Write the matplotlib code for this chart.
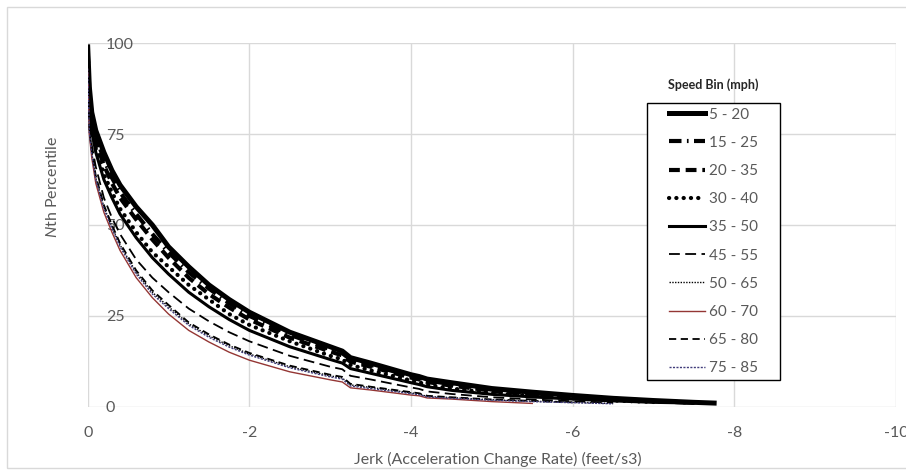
import matplotlib
matplotlib.use("Agg")
import matplotlib.pyplot as plt
import matplotlib.patches as patches

FONT = 'Lato'
plt.rcParams['font.family'] = [FONT, 'DejaVu Sans']
plt.rcParams['axes.unicode_minus'] = False
plt.rcParams['mathtext.fontset'] = 'custom'
plt.rcParams['mathtext.it'] = FONT + ':italic'
plt.rcParams['mathtext.rm'] = FONT

GREY = '#595959'

# jerk (feet/s3) sample points, shared by all speed bins
JERK = [0, -0.02, -0.05, -0.1, -0.2, -0.3, -0.4, -0.6, -0.8, -1.0,
        -1.25, -1.5, -1.75, -2.0, -2.5, -3.0, -3.15, -3.25, -3.5, -4.0,
        -4.1, -4.2, -4.5, -5.0, -5.5, -6.0, -6.5, -7.0, -7.5, -7.75]

# Nth percentile for each speed bin (a bin stops where its data ends)
P_5_20 = [99, 88, 81, 76, 70, 65, 61, 55, 50, 44,
          38.5, 33.5, 29.5, 26, 20.5, 16.5, 15.3, 13.5, 12, 8.8,
          8.3, 7.6, 6.6, 5.0, 4.0, 3.1, 2.3, 1.7, 1.2, 1.0]
P_15_25 = [98, 87, 80, 74.5, 68, 63, 59, 53, 47.5, 42.5,
           37, 32.5, 28.5, 25, 19.8, 15.8, 14.7, 13, 11.5, 8.4,
           7.9, 7.2, 6.2, 4.7, 3.7, 2.9, 2.2, 1.6, 1.1]
P_20_35 = [97, 86, 79, 73, 66.5, 61.5, 57.5, 51.5, 46, 41,
           35.5, 31, 27.3, 24, 19, 15.2, 14.1, 12.4, 11, 8,
           7.5, 6.8, 5.8, 4.4, 3.5, 2.7, 2.0, 1.5, 1.1]
P_30_40 = [97, 84, 77, 71, 64, 59, 54.5, 48, 42.5, 38.5,
           33.5, 29.5, 25.5, 22.5, 18, 14, 13, 11.5, 10, 7.2,
           6.7, 6.0, 5.0, 3.8, 3.0, 2.3, 1.7, 1.3]
P_35_50 = [96, 83, 76, 70, 62.5, 57.5, 53, 46.5, 41, 36.5,
           31.5, 27.5, 24, 21, 16.5, 13, 12, 10.5, 9.2, 6.6,
           6.1, 5.5, 4.5, 3.4, 2.7, 2.1, 1.6, 1.2, 1.0]
P_45_55 = [95, 80, 72, 66, 57.5, 52, 47.5, 40.5, 35.5, 31.5,
           27, 23.5, 20.5, 18, 14, 11, 10.3, 8.5, 7.5, 5.3,
           4.9, 4.2, 3.5, 2.6, 2.0, 1.5, 1.1]
P_50_65 = [94, 76, 70, 63, 55, 49.5, 44.5, 37, 31.5, 27.5,
           22.8, 19.5, 16.8, 14.5, 11, 8.5, 7.9, 6.0, 5.3, 3.8,
           3.5, 2.8, 2.5, 1.9, 1.5, 1.2, 0.9]
P_60_70 = [93, 75, 68.5, 61.5, 53.5, 48, 43, 35.5, 30, 25.5,
           21, 17.8, 15, 12.8, 9.6, 7.4, 6.8, 5.2, 4.6, 3.2,
           3.0, 2.4, 2.1, 1.4, 0.9]
P_65_80 = [94, 77, 70.5, 63.5, 55.5, 50, 45, 37.5, 32, 28,
           23.2, 19.9, 17.1, 14.8, 11.3, 8.8, 8.2, 6.3, 5.5, 4.0,
           3.7, 3.0, 2.6, 2.0, 1.6, 1.2]
P_75_85 = [93, 75.5, 69.5, 62.5, 54.5, 49, 44, 36.5, 31, 27,
           22.4, 19.1, 16.4, 14.2, 10.7, 8.2, 7.6, 5.7, 5.0, 3.6,
           3.3, 2.7, 2.3, 1.8, 1.4, 1.1, 0.8]

BINS = ['5 - 20', '15 - 25', '20 - 35', '30 - 40', '35 - 50',
        '45 - 55', '50 - 65', '60 - 70', '65 - 80', '75 - 85']
SERIES = [P_5_20, P_15_25, P_20_35, P_30_40, P_35_50,
          P_45_55, P_50_65, P_60_70, P_65_80, P_75_85]

STYLES = [
    dict(color='black', lw=3.6, ls='-'),
    dict(color='black', lw=3.0, ls=(0, (3, 1.3, 0.4, 1.3))),
    dict(color='black', lw=3.0, ls=(0, (2.6, 1.4))),
    dict(color='black', lw=3.0, ls=(0, (0.05, 1.7)), dash_capstyle='round'),
    dict(color='black', lw=2.2, ls='-'),
    dict(color='black', lw=1.3, ls=(0, (6, 3))),
    dict(color='black', lw=1.0, ls=(0, (1, 1))),
    dict(color='#943634', lw=1.0, ls='-'),
    dict(color='black', lw=1.3, ls=(0, (4, 2.5))),
    dict(color='#403c7a', lw=1.0, ls=(0, (1.5, 1))),
]

fig = plt.figure(figsize=(9.06, 4.70), dpi=100)
ax = fig.add_axes([87.7 / 906, 63.3 / 470, 808.3 / 906, 363.4 / 470])

for label, vals, st in zip(BINS, SERIES, STYLES):
    ax.plot(JERK[:len(vals)], vals, label=label, **st)

ax.set_xlim(0, -10)
ax.set_ylim(0, 100)
ax.set_xticks(range(0, -11, -2))
ax.set_yticks([0, 25, 50, 75, 100])
ax.grid(True, color='#d9d9d9', lw=1.0)
ax.set_axisbelow(True)
for s in ax.spines.values():
    s.set_visible(False)

ax.tick_params(axis='x', length=0, pad=14, labelsize=11.5, labelcolor=GREY)
ax.tick_params(axis='y', length=0, pad=-13, labelsize=11.5, labelcolor=GREY)
for t in ax.get_yticklabels():
    t.set_horizontalalignment('left')

ax.set_xlabel('Jerk (Acceleration Change Rate) (feet/s3)', fontsize=11.5, color=GREY)
ax.xaxis.set_label_coords(0.507, -0.125)
ax.set_ylabel(r'$\mathit{N}$th Percentile', fontsize=11.5, color=GREY)
ax.yaxis.set_label_coords(-0.034, 0.605)

# legend frame and title drawn in figure pixels
box = patches.Rectangle((647 / 906, 90 / 470), 133 / 906, 277 / 470,
                        transform=fig.transFigure, facecolor='white',
                        edgecolor='black', lw=1.0, zorder=2)
fig.patches.append(box)
fig.text(713 / 906, 1 - 85 / 470, 'Speed Bin (mph)', ha='center', va='center',
         fontsize=9, fontweight='bold', color='#262626')

handles, labels = ax.get_legend_handles_labels()
leg = fig.legend(handles, labels, loc='center',
                 bbox_to_anchor=(713.5 / 906, 1 - 241.5 / 470),
                 frameon=False, fontsize=11, labelcolor=GREY,
                 handlelength=2.4, handletextpad=0.25, labelspacing=0.93,
                 borderpad=0)
leg.set_zorder(3)

# chart area border
fig.patches.append(patches.Rectangle((7 / 906, 2 / 470), 1.2, 461 / 470,
                                     transform=fig.transFigure, fill=False,
                                     edgecolor='#d9d9d9', lw=1.0, zorder=1))

fig.savefig('out.png', dpi=100)
